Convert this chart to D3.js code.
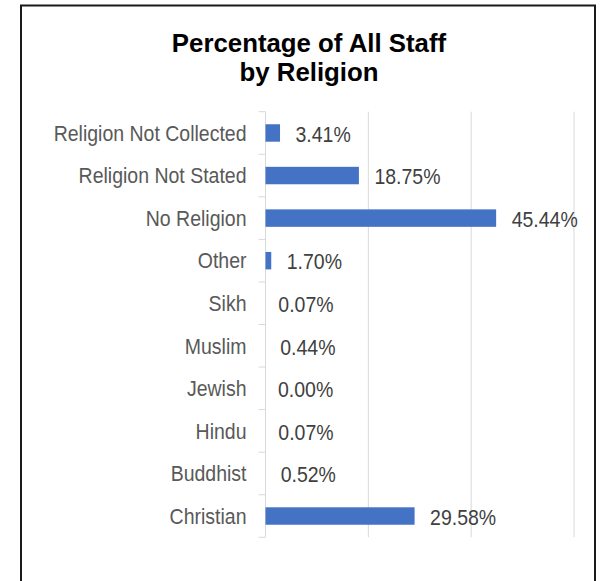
<!DOCTYPE html>
<html>
<head>
<meta charset="utf-8">
<script src="https://cdn.jsdelivr.net/npm/d3@7"></script>
<style>
  html, body { margin: 0; padding: 0; background: #fff; }
  svg { display: block; }
  text { font-family: "Liberation Sans", Arial, sans-serif; }
</style>
</head>
<body>
<svg id="chart" width="601" height="581"></svg>
<script>
const categories = ["Religion Not Collected", "Religion Not Stated", "No Religion", "Other", "Sikh", "Muslim", "Jewish", "Hindu", "Buddhist", "Christian"];
const values = [3.41, 18.75, 45.44, 1.70, 0.07, 0.44, 0.00, 0.07, 0.52, 29.58];
const valueLabels = ["3.41%", "18.75%", "45.44%", "1.70%", "0.07%", "0.44%", "0.00%", "0.07%", "0.52%", "29.58%"];
const gridTicks = [20, 40, 60];
const titleLines = ["Percentage of All Staff", "by Religion"];

const svg = d3.select("#chart");
const VS = 1.12; // vertical stretch of text in reference

// chart frame
svg.append("path")
  .attr("d", "M21,600 V5.5 H595 V600")
  .attr("fill", "none")
  .attr("stroke", "#1a1a1a")
  .attr("stroke-width", 2);

function stretchedText(parent, x, y, str, opts) {
  const vs = opts.vs || VS;
  const g = parent.append("g").attr("transform", `translate(${x},${y}) scale(1,${vs})`);
  const t = g.append("text")
    .attr("x", 0).attr("y", 0)
    .attr("text-anchor", opts.anchor)
    .attr("font-size", opts.size)
    .attr("fill", opts.fill)
    .text(str);
  if (opts.bold) t.attr("font-weight", "bold");
  return t;
}

// title
stretchedText(svg, 309, 51.8, titleLines[0], {anchor: "middle", size: 25.8, fill: "#000", bold: true, vs: 1.0});
stretchedText(svg, 309, 80.8, titleLines[1], {anchor: "middle", size: 25.8, fill: "#000", bold: true, vs: 1.0});

const x = d3.scaleLinear().domain([0, 60]).range([265.5, 574]);
const y = d3.scaleBand().domain(categories).range([111.7, 537.3]).paddingInner(0.59).paddingOuter(0.295);
const step = y.step();
const y0 = 111.7;

// gridlines
svg.append("g").selectAll("line").data(gridTicks).join("line")
  .attr("x1", d => x(d)).attr("x2", d => x(d))
  .attr("y1", y0).attr("y2", y0 + step * categories.length)
  .attr("stroke", "#d9d9d9").attr("stroke-width", 1);

// category axis line and ticks
svg.append("line")
  .attr("x1", x(0)).attr("x2", x(0))
  .attr("y1", y0).attr("y2", y0 + step * categories.length)
  .attr("stroke", "#d9d9d9").attr("stroke-width", 1);
svg.append("g").selectAll("line").data(d3.range(categories.length + 1)).join("line")
  .attr("x1", x(0) - 7).attr("x2", x(0))
  .attr("y1", i => y0 + i * step).attr("y2", i => y0 + i * step)
  .attr("stroke", "#d9d9d9").attr("stroke-width", 1);

// bars
svg.append("g").selectAll("rect").data(categories).join("rect")
  .attr("x", x(0))
  .attr("y", d => y(d))
  .attr("width", (d, i) => Math.max(0, x(values[i]) - x(0) - 3))
  .attr("height", y.bandwidth())
  .attr("fill", "#4472C4");

const capH = 19.5 * 0.716 * VS;

// category labels
const catG = svg.append("g");
categories.forEach((d) => {
  stretchedText(catG, 246.5, y(d) + y.bandwidth() / 2 + capH / 2, d, {anchor: "end", size: 19.5, fill: "#595959"});
});

// value labels
const valG = svg.append("g");
categories.forEach((d, i) => {
  stretchedText(valG, x(values[i]) + 12.5, y(d) + y.bandwidth() / 2 + capH / 2 + 1, valueLabels[i], {anchor: "start", size: 19.5, fill: "#404040"});
});
</script>
</body>
</html>
